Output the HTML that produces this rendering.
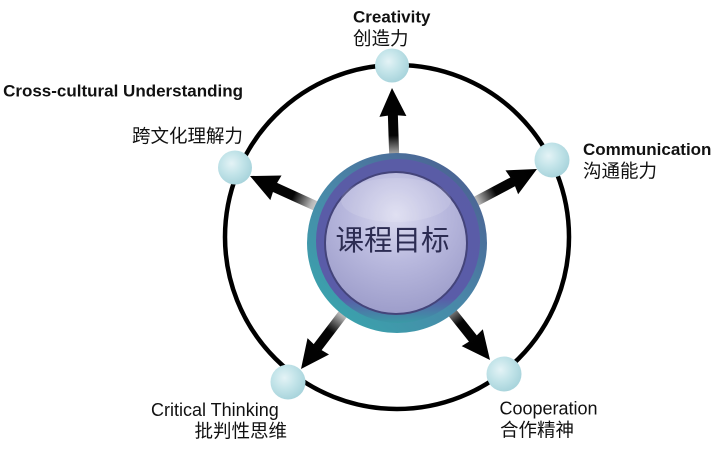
<!DOCTYPE html>
<html>
<head>
<meta charset="utf-8">
<style>
  html,body{margin:0;padding:0;background:#ffffff;}
  svg{display:block;}
  .en{font-family:"Liberation Sans",Arial,sans-serif;fill:#111;}
  .cn{font-family:"Liberation Sans","Noto Sans CJK SC",sans-serif;fill:#111;}
</style>
</head>
<body>
<svg width="716" height="450" viewBox="0 0 716 450" xmlns="http://www.w3.org/2000/svg">
  <defs>
    <linearGradient id="arrowGrad" gradientUnits="userSpaceOnUse" x1="0" y1="0" x2="0" y2="82">
      <stop offset="0" stop-color="#000"/>
      <stop offset="0.58" stop-color="#050505"/>
      <stop offset="0.82" stop-color="#b5b5b5"/>
      <stop offset="1" stop-color="#f4f4f4"/>
    </linearGradient>
    <radialGradient id="nodeGrad" cx="0.4" cy="0.38" r="0.65">
      <stop offset="0" stop-color="#e4f3f6"/>
      <stop offset="0.5" stop-color="#c3e4e9"/>
      <stop offset="1" stop-color="#a7d3db"/>
    </radialGradient>
    <linearGradient id="outerRing" x1="0.15" y1="0.9" x2="0.85" y2="0.1">
      <stop offset="0" stop-color="#3aa2ac"/>
      <stop offset="0.5" stop-color="#4a86a8"/>
      <stop offset="1" stop-color="#4b6494"/>
    </linearGradient>
    <linearGradient id="purpleRing" x1="0" y1="0" x2="0" y2="1">
      <stop offset="0" stop-color="#5a5ca6"/>
      <stop offset="0.85" stop-color="#5a5ca8"/>
      <stop offset="1" stop-color="#3a9aa6"/>
    </linearGradient>
    <radialGradient id="innerDisc" cx="0.5" cy="0.3" r="0.75">
      <stop offset="0" stop-color="#dcdcf0"/>
      <stop offset="0.45" stop-color="#b9b9de"/>
      <stop offset="1" stop-color="#9a9ac8"/>
    </radialGradient>
    <g id="arrow">
      <path d="M0,0 L13.5,28.5 L5,27.5 L5,82 L-5,82 L-5,27.5 L-13.5,28.5 Z" fill="url(#arrowGrad)"/>
    </g>
  </defs>

  <!-- big circle -->
  <circle cx="397" cy="237" r="172" fill="none" stroke="#000" stroke-width="4.5"/>

  <!-- arrows -->
  <g transform="translate(392,88) rotate(-1.85)"><use href="#arrow"/></g>
  <g transform="translate(250,176) rotate(-65.5)"><use href="#arrow"/></g>
  <g transform="translate(537,169) rotate(62.1)"><use href="#arrow"/></g>
  <g transform="translate(301,369) rotate(-142.7)"><use href="#arrow"/></g>
  <g transform="translate(490,360) rotate(141.5)"><use href="#arrow"/></g>

  <!-- central circle -->
  <circle cx="397" cy="243" r="90" fill="url(#outerRing)"/>
  <circle cx="398" cy="241" r="82" fill="url(#purpleRing)"/>
  <circle cx="396" cy="243" r="72" fill="#44447a"/>
  <circle cx="396" cy="243" r="70" fill="url(#innerDisc)"/>
  <ellipse cx="396" cy="200" rx="55" ry="22" fill="#ffffff" opacity="0.12"/>
  <text x="392.5" y="250" text-anchor="middle" class="cn" style="fill:#2c2c52;font-size:28.5px;">课程目标</text>

  <!-- nodes -->
  <circle cx="392" cy="65.5" r="17" fill="url(#nodeGrad)"/>
  <circle cx="235" cy="167.5" r="17" fill="url(#nodeGrad)"/>
  <circle cx="552" cy="160" r="17.5" fill="url(#nodeGrad)"/>
  <circle cx="288" cy="382" r="17.5" fill="url(#nodeGrad)"/>
  <circle cx="504" cy="374" r="17.5" fill="url(#nodeGrad)"/>

  <!-- labels -->
  <text x="353" y="22.5" class="en" style="font-size:17px;font-weight:bold;">Creativity</text>
  <text x="353" y="45" class="cn" style="font-size:18.5px;">创造力</text>

  <text x="243" y="96.5" text-anchor="end" class="en" style="font-size:17px;font-weight:bold;">Cross-cultural Understanding</text>
  <text x="243" y="142.5" text-anchor="end" class="cn" style="font-size:18.5px;">跨文化理解力</text>

  <text x="583" y="155" class="en" style="font-size:17px;font-weight:bold;">Communication</text>
  <text x="583" y="177.5" class="cn" style="font-size:18.5px;">沟通能力</text>

  <text x="151" y="416" class="en" style="font-size:18px;">Critical Thinking</text>
  <text x="287" y="437.5" text-anchor="end" class="cn" style="font-size:18.5px;">批判性思维</text>

  <text x="499.5" y="414.3" class="en" style="font-size:18px;">Cooperation</text>
  <text x="500" y="436.5" class="cn" style="font-size:18.5px;">合作精神</text>
</svg>
</body>
</html>
